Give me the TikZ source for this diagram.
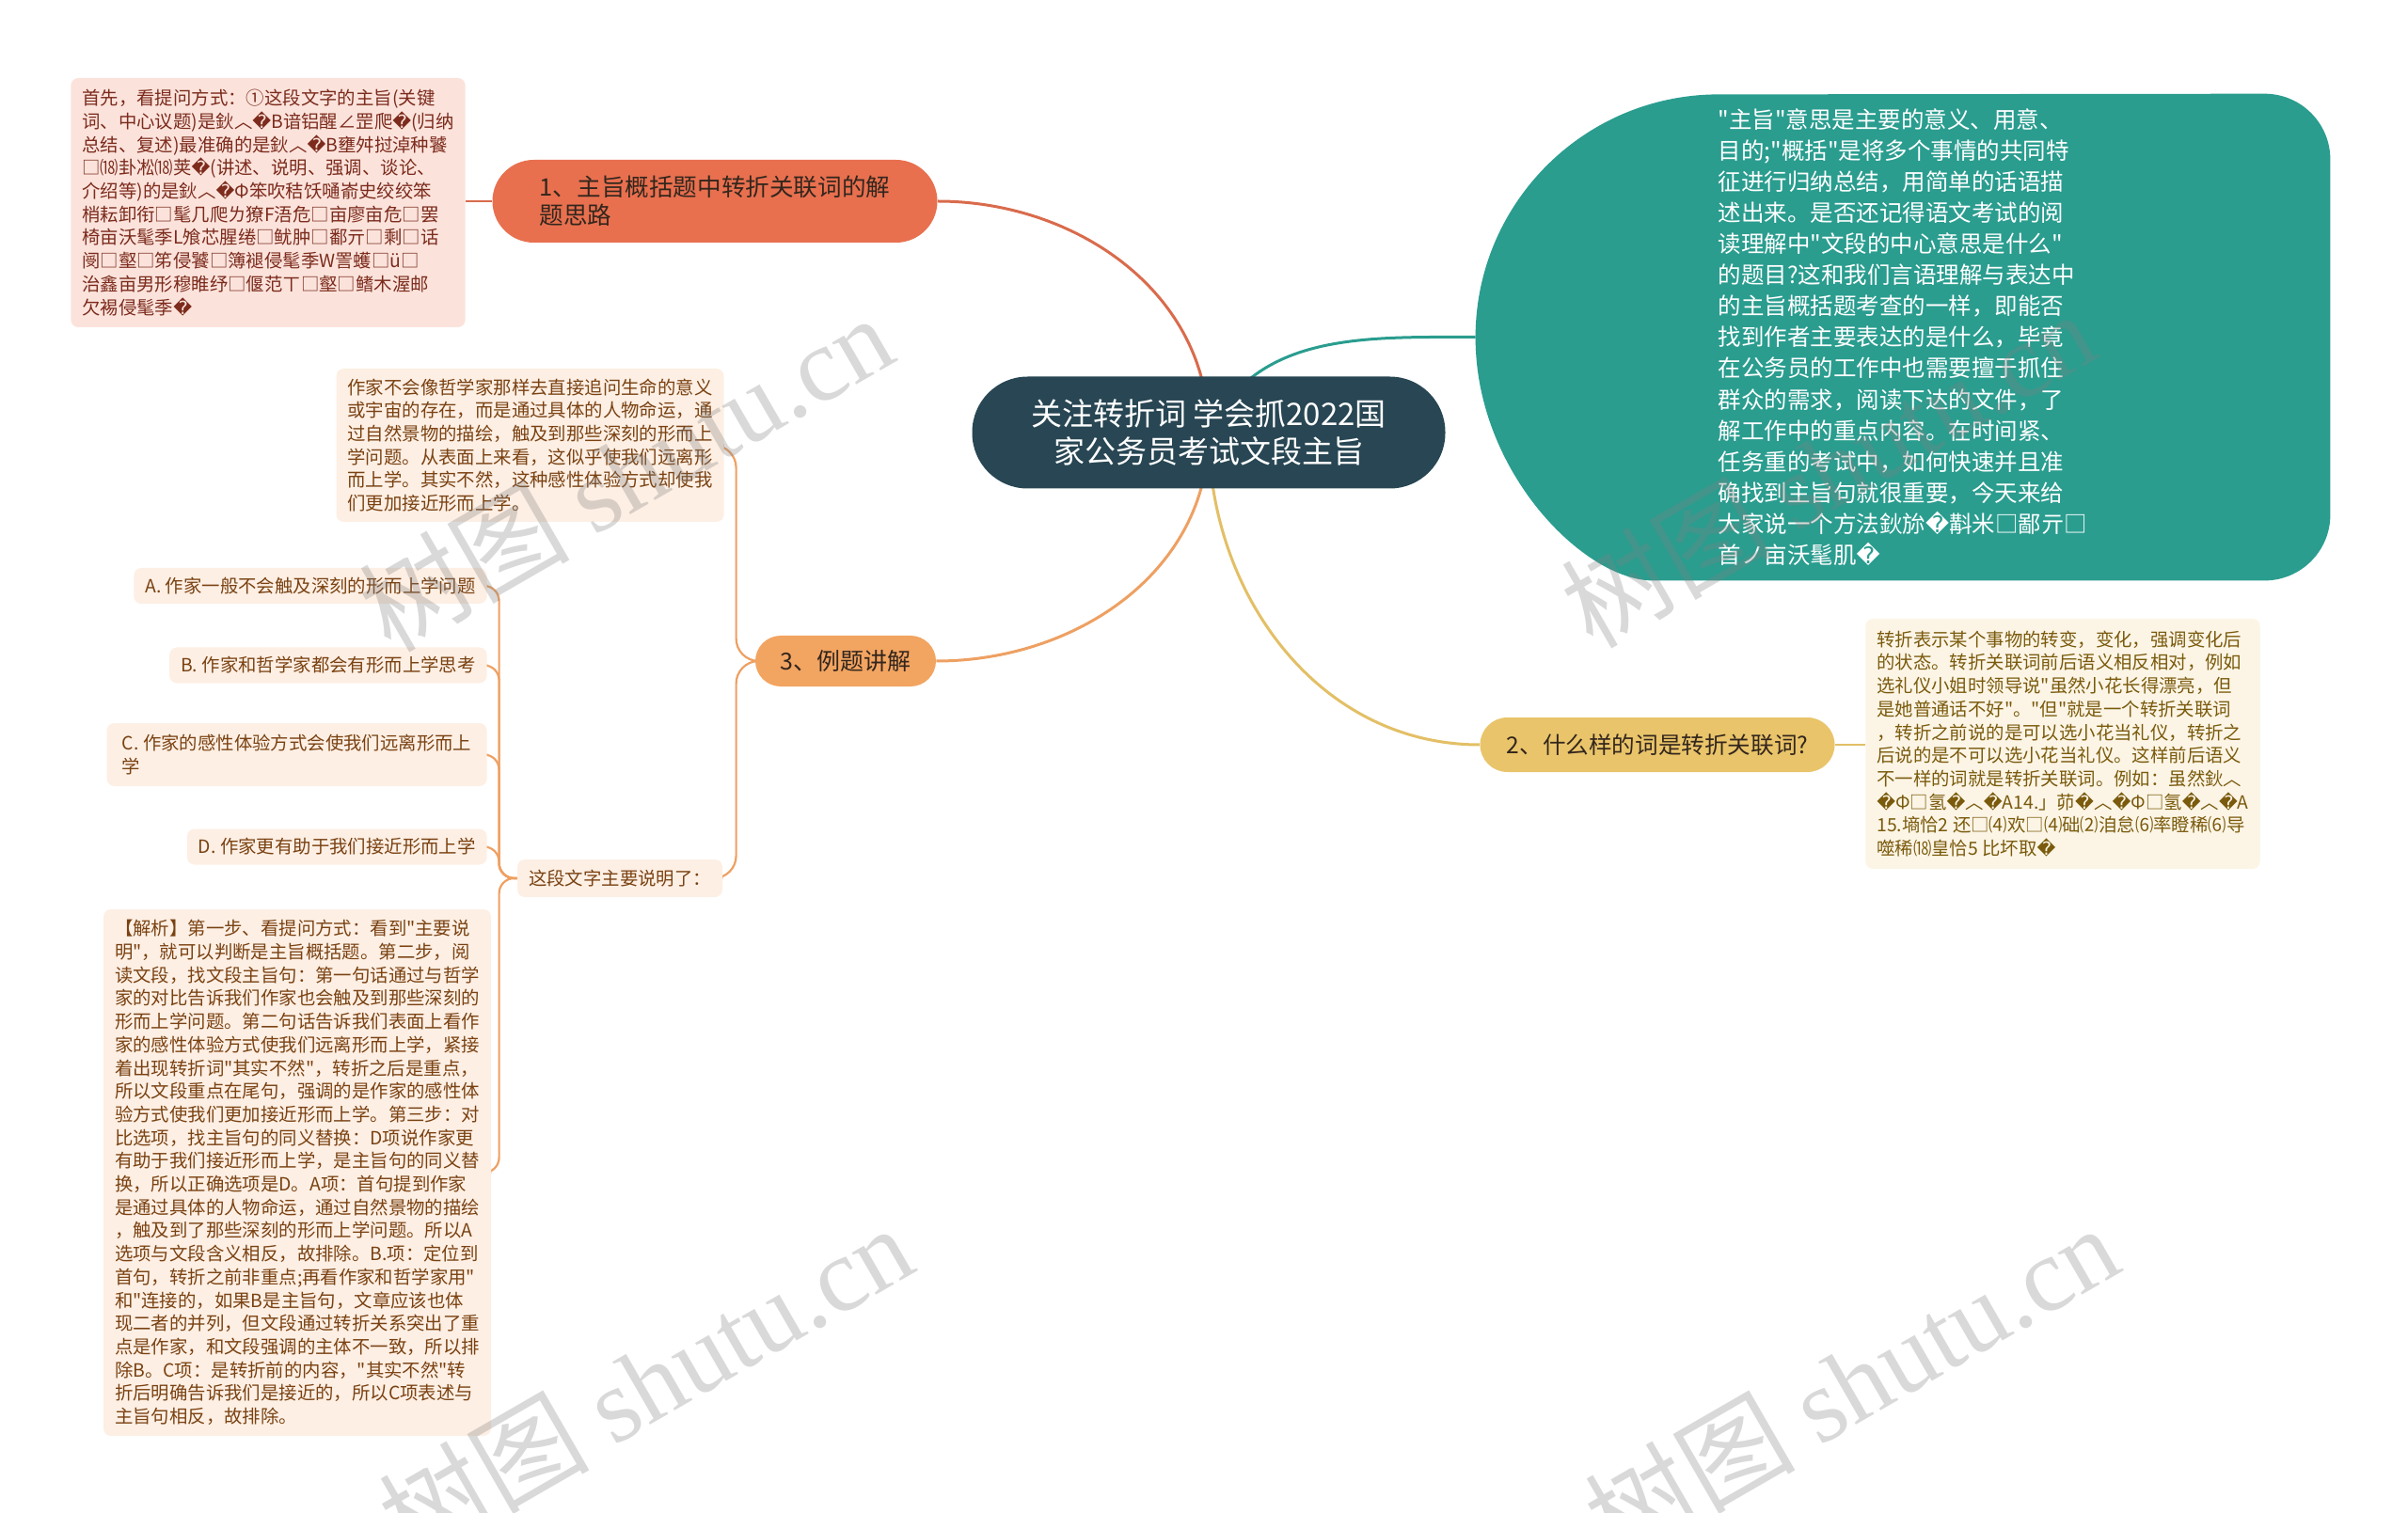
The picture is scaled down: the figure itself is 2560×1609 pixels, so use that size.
\documentclass[tikz,border=0pt]{standalone}
\usepackage{fontspec}
\setmainfont{Noto Sans CJK SC}
\newfontfamily\cnfont{Noto Sans CJK SC}
\newfontfamily\dvfont{DejaVu Sans}
\newfontfamily\wmfont{Liberation Serif}
\usetikzlibrary{backgrounds}
\definecolor{rootfill}{HTML}{284653}
\definecolor{redfill}{HTML}{E8704F}
\definecolor{redline}{HTML}{D96B4C}
\definecolor{redleaf}{HTML}{FBE3DC}
\definecolor{redtext}{HTML}{7C2B1C}
\definecolor{orgfill}{HTML}{F2A461}
\definecolor{orgline}{HTML}{EEA062}
\definecolor{orgleaf}{HTML}{FDEFE4}
\definecolor{orgtext}{HTML}{7A4212}
\definecolor{ylwfill}{HTML}{E9C46A}
\definecolor{ylwline}{HTML}{E3BF66}
\definecolor{ylwleaf}{HTML}{FCF5E6}
\definecolor{ylwtext}{HTML}{7A5A0C}
\definecolor{tealfill}{HTML}{2A9D8F}
\definecolor{darktext}{HTML}{33261D}
\newcommand\rpc{{\dvfont\char"FFFD}}
\newcommand\smallcn{\cnfont\fontsize{9.7}{12.35}\selectfont}
\tikzset{
  rootnode/.style={fill=rootfill, text=white, rounded corners=29.5pt, minimum width=251.5pt,
    minimum height=59.5pt, align=center, font=\cnfont\fontsize{16.5}{20}\selectfont},
  pill/.style={text=darktext, inner xsep=10pt, align=left},
  leafbox/.style={rounded corners=4pt, inner xsep=6pt, inner ysep=4pt, align=left, font=\smallcn},
  optbox/.style={leafbox, fill=orgleaf, text=orgtext, anchor=east, minimum height=19pt},
  mainline/.style={line width=1.5pt},
  subline/.style={line width=1.1pt},
  wmark/.style={text=gray, opacity=0.3, rotate=30, font=\cnfont\fontsize{56}{60}\selectfont}
}
\begin{document}
\cnfont
\begin{tikzpicture}[x=0.5pt, y=-0.5pt]
\useasboundingbox (0,0) rectangle (2560,1609);

\node[rootnode] (root) at (1285,460) {关注转折词 学会抓2022国\\家公务员考试文段主旨};

\node[pill, fill=redfill, minimum width=236.5pt, minimum height=44pt, rounded corners=22pt,
  font=\cnfont\fontsize{12.8}{15}\selectfont] (sub1) at (760,214) {1、主旨概括题中转折关联词的解\\题思路};
\node[pill, fill=orgfill, minimum width=96pt, minimum height=27pt, rounded corners=13.5pt,
  font=\cnfont\fontsize{12.5}{15}\selectfont] (sub3) at (899,703) {3、例题讲解};
\node[pill, fill=ylwfill, minimum width=188.5pt, minimum height=29pt, rounded corners=14.5pt,
  font=\cnfont\fontsize{12.3}{15}\selectfont] (sub2) at (1762,792) {2、什么样的词是转折关联词?};
\node[minimum width=454pt, minimum height=258.5pt, text=white, align=left,
  font=\cnfont\fontsize{12.25}{16.55}\selectfont] (sub4) at (2023,358.5) {"主旨"意思是主要的意义、用意、\\
目的;"概括"是将多个事情的共同特\\
征进行归纳总结，用简单的话语描\\
述出来。是否还记得语文考试的阅\\
读理解中"文段的中心意思是什么"\\
的题目?这和我们言语理解与表达中\\
的主旨概括题考查的一样，即能否\\
找到作者主要表达的是什么，毕竟\\
在公务员的工作中也需要擅于抓住\\
群众的需求，阅读下达的文件，了\\
解工作中的重点内容。在时间紧、\\
任务重的考试中，如何快速并且准\\
确找到主旨句就很重要，今天来给\\
大家说一个方法鈥旀\rpc{}斠米□鄙亓□\\
首ノ亩沃髦肌\rpc{}};

\node[leafbox, fill=redleaf, text=redtext, minimum width=202pt, minimum height=132.5pt]
  (leaf1) at (285,215.5) {首先，看提问方式：①这段文字的主旨(关键\\
词、中心议题)是鈥︿\rpc{}B谙铝醒∠罡爬\rpc{}(归纳\\
总结、复述)最准确的是鈥︿\rpc{}B壅舛挝淖种饕\\
□⒅卦凇⒅荚\rpc{}(讲述、说明、强调、谈论、\\
介绍等)的是鈥︿\rpc{}Φ笨吹秸饫嗵嵛史绞绞笨\\
梢耘卸衔□髦几爬ㄌ獠F浯危□亩廖亩危□罢\\
椅亩沃髦季L飧芯腥绻□鱿肿□鄱亓□剩□话\\
阌□壑□笫侵饕□簿褪侵髦季W詈蠖□ü□\\
治鑫亩男形穆睢纾□偃范ㄒ□壑□鳍木渥邮\\
欠裼侵髦季\rpc{}};

\node[leafbox, fill=ylwleaf, text=ylwtext, minimum width=201pt, minimum height=133pt]
  (leaf2) at (2193,791) {转折表示某个事物的转变，变化，强调变化后\\
的状态。转折关联词前后语义相反相对，例如\\
选礼仪小姐时领导说"虽然小花长得漂亮，但\\
是她普通话不好"。"但"就是一个转折关联词\\
，转折之前说的是可以选小花当礼仪，转折之\\
后说的是不可以选小花当礼仪。这样前后语义\\
不一样的词就是转折关联词。例如：虽然鈥︿\\
\rpc{}Φ□氢\rpc{}︿\rpc{}A14.」茆\rpc{}︿\rpc{}Φ□氢\rpc{}︿\rpc{}A\\
15.墒恰2 还□⑷欢□⑷础⑵洎怠⑹率瞪稀⑹导\\
噬稀⒅皇恰5 比坏取\rpc{}};

\node[leafbox, fill=orgleaf, text=orgtext, minimum width=200.5pt, minimum height=81.5pt]
  (passage) at (563.5,473.5) {作家不会像哲学家那样去直接追问生命的意义\\
或宇宙的存在，而是通过具体的人物命运，通\\
过自然景物的描绘，触及到那些深刻的形而上\\
学问题。从表面上来看，这似乎使我们远离形\\
而上学。其实不然，这种感性体验方式却使我\\
们更加接近形而上学。};
\node[leafbox, fill=orgleaf, text=orgtext, minimum width=105pt, minimum height=20pt]
  (said) at (659,934) {这段文字主要说明了：};

\node[optbox] (optA) at (518,623) {A. 作家一般不会触及深刻的形而上学问题};
\node[optbox] (optB) at (518,707.5) {B. 作家和哲学家都会有形而上学思考};
\node[optbox, minimum width=202pt, minimum height=33.5pt] (optC) at (518,802.5)
  {C. 作家的感性体验方式会使我们远离形而上\\学};
\node[optbox] (optD) at (518,900.5) {D. 作家更有助于我们接近形而上学};
\node[leafbox, fill=orgleaf, text=orgtext, minimum width=202pt, minimum height=280pt]
  (expl) at (316,1247) {【解析】第一步、看提问方式：看到"主要说\\
明"，就可以判断是主旨概括题。第二步，阅\\
读文段，找文段主旨句：第一句话通过与哲学\\
家的对比告诉我们作家也会触及到那些深刻的\\
形而上学问题。第二句话告诉我们表面上看作\\
家的感性体验方式使我们远离形而上学，紧接\\
着出现转折词"其实不然"，转折之后是重点，\\
所以文段重点在尾句，强调的是作家的感性体\\
验方式使我们更加接近形而上学。第三步：对\\
比选项，找主旨句的同义替换：D项说作家更\\
有助于我们接近形而上学，是主旨句的同义替\\
换，所以正确选项是D。A项：首句提到作家\\
是通过具体的人物命运，通过自然景物的描绘\\
，触及到了那些深刻的形而上学问题。所以A\\
选项与文段含义相反，故排除。B.项：定位到\\
首句，转折之前非重点;再看作家和哲学家用"\\
和"连接的，如果B是主旨句，文章应该也体\\
现二者的并列，但文段通过转折关系突出了重\\
点是作家，和文段强调的主体不一致，所以排\\
除B。C项：是转折前的内容，"其实不然"转\\
折后明确告诉我们是接近的，所以C项表述与\\
主旨句相反，故排除。};

\begin{pgfonlayer}{background}
\fill[tealfill] ([xshift=129.25pt]sub4.south west) arc[start angle=270, end angle=90, radius=129.25pt]
  [rounded corners=35pt] -- (sub4.north east) -- (sub4.south east) -- cycle;
\draw[mainline, redline] (root.center) to[out=90, in=0] (sub1.east);
\draw[mainline, tealfill] (root.center) to[out=65, in=180] (sub4.west);
\draw[mainline, orgline] (root.center) to[out=-90, in=0] (sub3.east);
\draw[mainline, ylwline] (root.center) to[out=-90, in=180] (sub2.west);
\draw[subline, redline] (sub1.west) -- (sub1.west -| leaf1.east);
\draw[subline, ylwline] (sub2.east) -- (sub2.east -| leaf2.west);
\draw[subline, orgline, rounded corners=12pt] (sub3.west) -- ++(-20,0) |- (passage.east);
\draw[subline, orgline, rounded corners=12pt] (sub3.west) -- ++(-20,0) |- (said.east);
\draw[subline, orgline, rounded corners=8pt] (said.west) -- ++(-19,0) |- (optA.east);
\draw[subline, orgline, rounded corners=8pt] (said.west) -- ++(-19,0) |- (optB.east);
\draw[subline, orgline, rounded corners=8pt] (said.west) -- ++(-19,0) |- (optC.east);
\draw[subline, orgline, rounded corners=8pt] (said.west) -- ++(-19,0) |- (optD.east);
\draw[subline, orgline, rounded corners=8pt] (said.west) -- ++(-19,0) |- (expl.east);
\end{pgfonlayer}

\begin{scope}
\clip (0,0) rectangle (2560,1609);
\node[wmark] (wm1) at (665,502) {树图 {\wmfont shutu.cn}};
\node[wmark] (wm2) at (1943,498) {树图 {\wmfont shutu.cn}};
\node[wmark] (wm3) at (686,1470) {树图 {\wmfont shutu.cn}};
\node[wmark] (wm4) at (1968,1470) {树图 {\wmfont shutu.cn}};
\end{scope}
\end{tikzpicture}
\end{document}
